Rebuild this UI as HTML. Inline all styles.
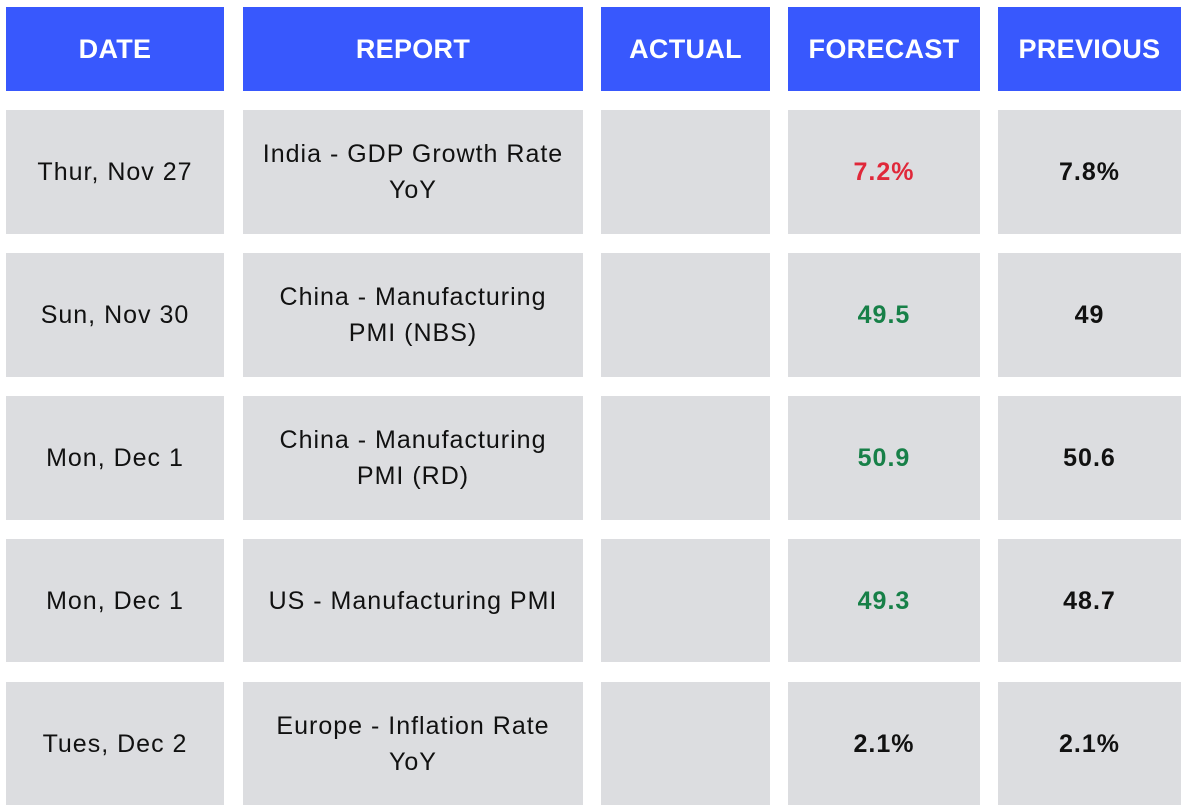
<!DOCTYPE html>
<html><head><meta charset="utf-8"><style>
body{margin:0;width:1188px;height:812px;background:#fff;position:relative;overflow:hidden;font-family:"Liberation Sans",sans-serif}
.c{position:absolute;display:flex;align-items:center;justify-content:center;text-align:center;box-sizing:border-box}
.h{background:#3858fd;color:#fff;font-weight:bold;font-size:27px;letter-spacing:0.3px}
.d{background:#dcdde0;color:#111;font-size:25px;line-height:36px;letter-spacing:1px}
.b{font-weight:bold}
.red{color:#e0283a}.grn{color:#178048}
</style></head><body>
<div class="c h" style="left:6px;top:7px;width:218px;height:84px">DATE</div>
<div class="c h" style="left:243px;top:7px;width:340px;height:84px">REPORT</div>
<div class="c h" style="left:601px;top:7px;width:169px;height:84px">ACTUAL</div>
<div class="c h" style="left:788px;top:7px;width:192px;height:84px">FORECAST</div>
<div class="c h" style="left:998px;top:7px;width:183px;height:84px">PREVIOUS</div>

<div class="c d" style="left:6px;top:110px;width:218px;height:124px">Thur, Nov 27</div>
<div class="c d" style="left:243px;top:110px;width:340px;height:124px">India - GDP Growth Rate<br>YoY</div>
<div class="c d" style="left:601px;top:110px;width:169px;height:124px"></div>
<div class="c d b red" style="left:788px;top:110px;width:192px;height:124px">7.2%</div>
<div class="c d b" style="left:998px;top:110px;width:183px;height:124px">7.8%</div>

<div class="c d" style="left:6px;top:253px;width:218px;height:124px">Sun, Nov 30</div>
<div class="c d" style="left:243px;top:253px;width:340px;height:124px">China - Manufacturing<br>PMI (NBS)</div>
<div class="c d" style="left:601px;top:253px;width:169px;height:124px"></div>
<div class="c d b grn" style="left:788px;top:253px;width:192px;height:124px">49.5</div>
<div class="c d b" style="left:998px;top:253px;width:183px;height:124px">49</div>

<div class="c d" style="left:6px;top:396px;width:218px;height:124px">Mon, Dec 1</div>
<div class="c d" style="left:243px;top:396px;width:340px;height:124px">China - Manufacturing<br>PMI (RD)</div>
<div class="c d" style="left:601px;top:396px;width:169px;height:124px"></div>
<div class="c d b grn" style="left:788px;top:396px;width:192px;height:124px">50.9</div>
<div class="c d b" style="left:998px;top:396px;width:183px;height:124px">50.6</div>

<div class="c d" style="left:6px;top:539px;width:218px;height:123px">Mon, Dec 1</div>
<div class="c d" style="left:243px;top:539px;width:340px;height:123px">US - Manufacturing PMI</div>
<div class="c d" style="left:601px;top:539px;width:169px;height:123px"></div>
<div class="c d b grn" style="left:788px;top:539px;width:192px;height:123px">49.3</div>
<div class="c d b" style="left:998px;top:539px;width:183px;height:123px">48.7</div>

<div class="c d" style="left:6px;top:682px;width:218px;height:123px">Tues, Dec 2</div>
<div class="c d" style="left:243px;top:682px;width:340px;height:123px">Europe - Inflation Rate<br>YoY</div>
<div class="c d" style="left:601px;top:682px;width:169px;height:123px"></div>
<div class="c d b" style="left:788px;top:682px;width:192px;height:123px">2.1%</div>
<div class="c d b" style="left:998px;top:682px;width:183px;height:123px">2.1%</div>
</body></html>
